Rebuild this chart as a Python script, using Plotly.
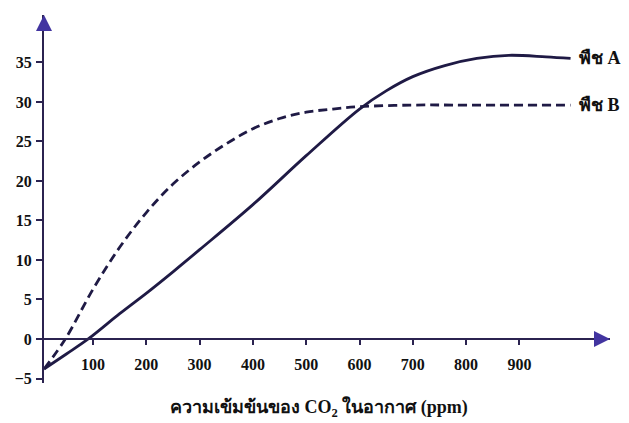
import plotly.graph_objects as go

# Data
plant_a_x = [8, 50, 91, 150, 204, 250, 300, 400, 500, 600, 650, 700, 760, 820, 880, 950, 996]
plant_a_y = [-3.8, -1.9, 0, 3.2, 6.0, 8.5, 11.3, 17.0, 23.2, 29.1, 31.4, 33.2, 34.6, 35.5, 35.9, 35.7, 35.5]

plant_b_x = [8, 48, 100, 150, 200, 250, 300, 350, 400, 450, 500, 550, 600, 700, 800, 996]
plant_b_y = [-3.8, 0, 6.3, 11.6, 16.0, 19.6, 22.4, 24.7, 26.6, 27.9, 28.7, 29.1, 29.4, 29.6, 29.6, 29.6]

series_names = ["พืช A", "พืช B"]
x_ticks = [100, 200, 300, 400, 500, 600, 700, 800, 900]
y_ticks = [-5, 0, 5, 10, 15, 20, 25, 30, 35]
x_title = "ความเข้มข้นของ CO<sub>2</sub> ในอากาศ (ppm)"

line_col = "#1f1a45"
axis_col = "#2b2350"
arrow_col = "#4234a0"
serif = "Liberation Serif"

x_range = [8, 1070]
y_range = [-5.57, 41.0]
x_axis_pos = (0 - y_range[0]) / (y_range[1] - y_range[0])

fig = go.Figure()
fig.add_trace(go.Scatter(x=plant_a_x, y=plant_a_y, mode="lines",
                         line=dict(color=line_col, width=2.8, shape="spline", smoothing=1.0),
                         name=series_names[0], showlegend=False))
fig.add_trace(go.Scatter(x=plant_b_x, y=plant_b_y, mode="lines",
                         line=dict(color=line_col, width=2.8, shape="spline", smoothing=1.0, dash="9px,5px"),
                         name=series_names[1], showlegend=False))

# page has an 8px body margin, so the figure is shrunk by that much
fig.update_layout(
    width=621, height=415,
    margin=dict(l=27, r=19, t=7, b=40),
    paper_bgcolor="white", plot_bgcolor="white",
    xaxis=dict(range=x_range, anchor="free", position=x_axis_pos,
               tickvals=x_ticks, ticks="outside", ticklen=5, tickwidth=2, tickcolor=axis_col,
               showline=True, linecolor=axis_col, linewidth=2, showgrid=False, zeroline=False,
               ticklabelstandoff=6,
               tickfont=dict(family=serif, size=16, color="#111111", weight="bold")),
    yaxis=dict(range=y_range, tickvals=y_ticks, ticks="outside", ticklen=6, tickwidth=2,
               tickcolor=axis_col, showline=True, linecolor=axis_col, linewidth=2,
               showgrid=False, zeroline=False, ticklabelstandoff=1,
               tickfont=dict(family=serif, size=16, color="#111111", weight="bold")),
)

# Axis arrows
fig.add_annotation(x=x_range[1], y=0, xref="x", yref="y", ax=-14, ay=0, showarrow=True,
                   arrowhead=2, arrowsize=1.6, arrowwidth=2, arrowcolor=arrow_col, text="")
fig.add_annotation(x=x_range[0], y=y_range[1], xref="x", yref="y", ax=0, ay=14, showarrow=True,
                   arrowhead=2, arrowsize=1.6, arrowwidth=2, arrowcolor=arrow_col, text="")

# Series labels
fig.add_annotation(x=plant_a_x[-1] + 12, y=plant_a_y[-1], xref="x", yref="y", text=series_names[0],
                   showarrow=False, xanchor="left", yanchor="middle",
                   font=dict(family=serif, size=18, color="#111111", weight="bold"))
fig.add_annotation(x=plant_b_x[-1] + 12, y=plant_b_y[-1], xref="x", yref="y", text=series_names[1],
                   showarrow=False, xanchor="left", yanchor="middle",
                   font=dict(family=serif, size=18, color="#111111", weight="bold"))

# X axis title
fig.add_annotation(x=0.486, y=-0.068, xref="paper", yref="paper", text=x_title, showarrow=False,
                   xanchor="center", yanchor="middle",
                   font=dict(family=serif, size=18, color="#111111", weight="bold"))

fig.write_html("out.html")
